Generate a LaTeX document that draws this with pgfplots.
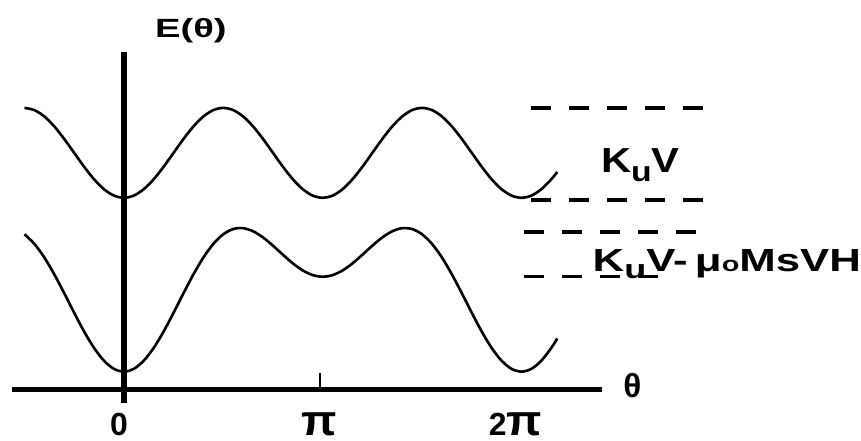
\documentclass[border=0pt]{standalone}
\usepackage{fontspec}
\setmainfont{Liberation Sans}
\usepackage{graphicx}
\usepackage{pgfplots}
\pgfplotsset{compat=1.18}
\newcommand{\bpi}{\scalebox{1.45}[1.35]{π}}
\begin{document}
\begin{tikzpicture}
\begin{axis}[
  scale only axis, width=8.61cm, height=4.41cm,
  xmin=-0.6231, xmax=3.7035, ymin=-51, ymax=390,
  axis lines=none, clip=false,
]
\path (rel axis cs:0,0) rectangle (rel axis cs:1,1);
% upper curve: no field
\addplot[black, line width=0.75pt, smooth, no markers] coordinates {
(-0.50,282.00) (-0.45,279.80) (-0.40,273.41) (-0.35,263.45) (-0.30,250.91) (-0.25,237.00) (-0.20,223.09) (-0.15,210.55) (-0.10,200.59) (-0.05,194.20) (0.00,192.00) (0.05,194.20) (0.10,200.59) (0.15,210.55) (0.20,223.09) (0.25,237.00) (0.30,250.91) (0.35,263.45) (0.40,273.41) (0.45,279.80) (0.50,282.00) (0.55,279.80) (0.60,273.41) (0.65,263.45) (0.70,250.91) (0.75,237.00) (0.80,223.09) (0.85,210.55) (0.90,200.59) (0.95,194.20) (1.00,192.00) (1.05,194.20) (1.10,200.59) (1.15,210.55) (1.20,223.09) (1.25,237.00) (1.30,250.91) (1.35,263.45) (1.40,273.41) (1.45,279.80) (1.50,282.00) (1.55,279.80) (1.60,273.41) (1.65,263.45) (1.70,250.91) (1.75,237.00) (1.80,223.09) (1.85,210.55) (1.90,200.59) (1.95,194.20) (2.00,192.00) (2.05,194.20) (2.10,200.59) (2.15,210.55) (2.18,217.84)
};
% lower curve: with field
\addplot[black, line width=0.75pt, smooth, no markers] coordinates {
(-0.50,155.50) (-0.45,145.87) (-0.40,132.23) (-0.35,115.39) (-0.30,96.49) (-0.25,76.91) (-0.20,58.16) (-0.15,41.73) (-0.10,28.91) (-0.05,20.78) (0.00,18.00) (0.05,20.78) (0.10,28.91) (0.15,41.73) (0.20,58.16) (0.25,76.91) (0.30,96.49) (0.35,115.39) (0.40,132.23) (0.45,145.87) (0.50,155.50) (0.55,160.73) (0.60,161.59) (0.65,158.51) (0.70,152.33) (0.75,144.09) (0.80,135.02) (0.85,126.37) (0.90,119.27) (0.95,114.62) (1.00,113.00) (1.05,114.62) (1.10,119.27) (1.15,126.37) (1.20,135.02) (1.25,144.09) (1.30,152.33) (1.35,158.51) (1.40,161.59) (1.45,160.73) (1.50,155.50) (1.55,145.87) (1.60,132.23) (1.65,115.39) (1.70,96.49) (1.75,76.91) (1.80,58.16) (1.85,41.73) (1.90,28.91) (1.95,20.78) (2.00,18.00) (2.05,20.78) (2.10,28.91) (2.15,41.73) (2.18,51.23)
};
% axes
\draw[black, line width=1.5pt] (axis cs:-0.563,0) -- (axis cs:2.407,0);
\draw[black, line width=1.6pt] (axis cs:0,-13) -- (axis cs:0,338);
\draw[black, line width=0.5pt] (axis cs:0.985,0) -- (axis cs:0.985,17);
% dashed reference levels
\tikzset{lev/.style={black, line width=1pt, dash pattern=on 5.7pt off 5.1pt}}
\draw[lev] (axis cs:2.050,282) -- (axis cs:2.930,282);
\draw[lev] (axis cs:2.050,190) -- (axis cs:2.930,190);
\draw[lev] (axis cs:2.015,158) -- (axis cs:2.910,158);
\draw[lev] (axis cs:2.015,113) -- (axis cs:2.709,113);
% labels
\node[anchor=base, inner sep=0pt, font=\fontsize{9.1}{10}\selectfont\bfseries] at (axis cs:-0.025,-46) {0};
\node[anchor=base, inner sep=0pt, font=\fontsize{9.1}{10}\selectfont\bfseries] at (axis cs:0.985,-46) {\bpi};
\node[anchor=base, inner sep=0pt, font=\fontsize{9.1}{10}\selectfont\bfseries] at (axis cs:1.970,-46) {2\bpi};
\node[anchor=base, inner sep=0pt, font=\fontsize{9.5}{11}\selectfont\bfseries] at (axis cs:2.558,-8) {θ};
\node[anchor=base, inner sep=0pt, font=\fontsize{7.5}{9}\selectfont\bfseries] at (axis cs:0.337,352) {\scalebox{1.45}[1]{E(θ)}};
\node[anchor=base, inner sep=0pt, font=\fontsize{9.9}{11}\selectfont\bfseries] at (axis cs:2.598,217) {\scalebox{1.2}[1]{K\raisebox{-0.45ex}{\fontsize{8}{9}\selectfont u}V}};
\node[anchor=base, inner sep=0pt, font=\fontsize{9.1}{10}\selectfont\bfseries] at (axis cs:3.033,118) {\scalebox{1.37}[1]{K\raisebox{-0.4ex}{\fontsize{7.5}{9}\selectfont u}V-\,μ{\fontsize{6}{7}\selectfont o}MsVH}};
\end{axis}
\end{tikzpicture}
\end{document}
